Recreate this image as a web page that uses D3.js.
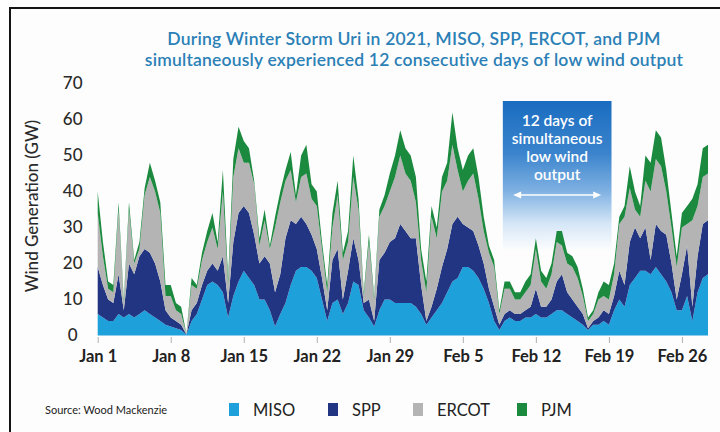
<!DOCTYPE html>
<html>
<head>
<meta charset="utf-8">
<script src="https://cdn.jsdelivr.net/npm/d3@7"></script>
<style>
  body { margin: 0; background: #fff; }
  svg { display: block; font-family: Lato, "Open Sans", sans-serif; }
</style>
</head>
<body>
<svg id="chart" width="720" height="432"></svg>
<script>
// Wind generation (GW), one value every 12 hours from Jan 1 00:00, 2021
const startDate = Date.UTC(2021, 0, 1);
const stepHours = 12;

const miso = [
  6, 5, 4, 4, 6, 5, 6, 5, 6, 7,
  6, 5, 4, 3, 2.5, 2, 1.5, 0.2, 4, 6,
  10, 14, 15, 14, 12, 5, 11, 15, 18, 16,
  14, 10, 10, 7, 2.5, 6, 9, 14, 18, 19,
  19, 18, 16, 10, 4, 9, 10, 6, 9, 15,
  14, 7, 5, 2.5, 7, 10, 10, 9, 9, 9,
  9, 8, 6, 3, 5, 7, 9, 12, 15, 16,
  19, 19, 18, 16, 13, 9, 4, 1.5, 4, 5,
  4, 4, 5, 5, 6, 5, 5, 6, 7, 7,
  6, 5, 4, 3, 1.5, 3, 3, 4, 3, 7,
  10, 8, 14, 16, 18, 18, 17, 19, 17, 15,
  12, 7, 7, 11, 4, 12, 16, 17
];
const spp = [
  13, 9, 6, 5, 11, 2, 14, 12, 16, 17,
  17, 15, 11, 4, 2.5, 2, 1.5, 0.1, 3, 3,
  4, 4, 5, 4, 10, 4, 15, 19, 18, 18,
  14, 10, 12, 13, 9.5, 11, 18, 18, 13, 14,
  12, 10, 8, 6, 3, 12, 14, 4, 9, 12,
  7, 2, 5, 1.5, 14, 13, 16, 18, 22, 20,
  18, 19, 8, 1, 3, 6, 10, 12, 16, 17,
  12, 11, 11, 9, 7, 4, 4, 1.5, 2, 2,
  2, 2, 2, 3, 7, 3, 3, 4, 8, 10,
  6, 5, 4, 3, 0.5, 1, 2, 3, 3, 4,
  8, 6, 12, 14, 9, 12, 4, 12, 12, 13,
  8, 3, 10, 14, 4, 10, 15, 15
];
const ercot = [
  15, 8, 3, 3, 18, 2, 15, 3, 2, 15,
  21, 20, 19, 4, 6, 3, 3, 0.1, 7, 4,
  7, 8, 10, 6, 18, 5, 18, 18, 12, 14,
  14, 5, 10, 4, 18, 20, 16, 14, 6, 11,
  14, 10, 12, 8, 5, 9, 15, 11, 8, 17,
  14, 2, 16, 6, 12, 13, 14, 17, 19, 16,
  16, 10, 7, 8, 25, 14, 21, 19, 22, 13,
  9, 13, 16, 13, 9, 10, 11, 3, 7, 6,
  4, 4, 5, 6, 11, 7, 5, 7, 11, 8,
  8, 9, 8, 5, 2, 2, 5, 4, 4, 6,
  13, 19, 15, 5, 6, 13, 19, 18, 18, 12,
  10, 9, 13, 6, 24, 14, 13, 13
];
const pjm = [
  6, 4, 2, 2, 2, 1, 2, 1, 2, 2,
  4, 3, 3, 3, 3, 2, 2, 0.1, 2, 1,
  2, 3, 4, 2, 6, 2, 5, 6, 6, 4,
  1, 2, 3, 1, 3, 3, 3, 5, 2, 6,
  8, 4, 4, 2, 2, 4, 4, 2, 3, 6,
  3, 1, 2, 1, 2, 3, 5, 6, 7, 7,
  7, 7, 3, 3, 3, 3, 4, 5, 9, 6,
  6, 7, 7, 6, 4, 2, 2, 1, 2, 2,
  2, 2, 3, 3, 3, 3, 3, 3, 3, 4,
  3, 3, 3, 2, 1, 1, 2, 4, 4, 3,
  2, 3, 6, 5, 3, 7, 8, 8, 8, 6,
  4, 3, 4, 5, 6, 6, 8, 8
];

const seriesNames = ["MISO", "SPP", "ERCOT", "PJM"];
const seriesColors = ["#1ea0db", "#213583", "#b4b4b4", "#1b8a3e"];
const tickLabels = ["Jan 1", "Jan 8", "Jan 15", "Jan 22", "Jan 29", "Feb 5", "Feb 12", "Feb 19", "Feb 26"];
const tickDates = [[0, 1], [0, 8], [0, 15], [0, 22], [0, 29], [1, 5], [1, 12], [1, 19], [1, 26]];
const yTicks = [0, 10, 20, 30, 40, 50, 60, 70];
const titleLines = [
  "During Winter Storm Uri in 2021, MISO, SPP, ERCOT, and PJM",
  "simultaneously experienced 12 consecutive days of low wind output"
];
const noteLines = ["12 days of", "simultaneous", "low wind", "output"];

// build rows for the stack
const rows = miso.map((v, i) => ({
  date: new Date(startDate + i * stepHours * 3600e3),
  MISO: v, SPP: spp[i], ERCOT: ercot[i], PJM: pjm[i]
}));

const svg = d3.select("#chart");

// frame
svg.append("rect").attr("x", 10).attr("y", 8).attr("width", 710).attr("height", 424).attr("fill", "#fdfdfd");
svg.append("path").attr("d", "M10,432V8H720").attr("fill", "none").attr("stroke", "#151515").attr("stroke-width", 2);

const x = d3.scaleUtc()
  .domain([rows[0].date, rows[rows.length - 1].date])
  .range([97.7, 708]);
const y = d3.scaleLinear().domain([0, 70]).range([335.5, 83.5]);

// annotation box (drawn under the areas)
const defs = svg.append("defs");
const grad = defs.append("linearGradient").attr("id", "boxGrad").attr("x1", 0).attr("y1", 0).attr("x2", 0).attr("y2", 1);
[[0, "#1a6cc0"], [0.35, "#3b84cd"], [0.6, "#7fb1e2"], [0.82, "#d6e7f7"], [1, "#fdfdfd"]].forEach(s => {
  grad.append("stop").attr("offset", s[0]).attr("stop-color", s[1]);
});
const boxX0 = x(new Date(Date.UTC(2021, 1, 8, 20))), boxX1 = x(new Date(Date.UTC(2021, 1, 19, 6)));
svg.append("rect")
  .attr("x", boxX0).attr("y", 101)
  .attr("width", boxX1 - boxX0).attr("height", 150)
  .attr("fill", "url(#boxGrad)");

// stacked areas
const stack = d3.stack().keys(seriesNames);
const layers = stack(rows);
const area = d3.area()
  .x(d => x(d.data.date))
  .y0(d => y(d[0]))
  .y1(d => y(d[1]));

svg.append("g").selectAll("path")
  .data(layers)
  .join("path")
  .attr("d", area)
  .attr("fill", (d, i) => seriesColors[i]);

// note text + arrow
const noteCx = (boxX0 + boxX1) / 2;
svg.append("g").selectAll("text")
  .data(noteLines)
  .join("text")
  .attr("x", noteCx)
  .attr("y", (d, i) => 126 + i * 18)
  .attr("text-anchor", "middle")
  .attr("fill", "#fff")
  .style("font-size", "15.5px")
  .style("font-weight", 600)
  .text(d => d);

const arrowY = 195;
const ax0 = noteCx - 44, ax1 = noteCx + 44;
svg.append("line").attr("x1", ax0 + 5).attr("x2", ax1 - 5).attr("y1", arrowY).attr("y2", arrowY)
  .attr("stroke", "#fff").attr("stroke-width", 1.5);
svg.append("path").attr("d", `M${ax0},${arrowY}l8,-3.5v7z`).attr("fill", "#fff");
svg.append("path").attr("d", `M${ax1},${arrowY}l-8,-3.5v7z`).attr("fill", "#fff");

// x axis
const xAxis = d3.axisBottom(x)
  .tickValues(tickDates.map(d => new Date(Date.UTC(2021, d[0], d[1]))))
  .tickFormat((d, i) => tickLabels[i])
  .tickSize(6)
  .tickPadding(7);
const gx = svg.append("g").attr("transform", "translate(0,337)").call(xAxis);
gx.select(".domain").remove();
gx.selectAll(".tick line").attr("stroke", "#b0b0b0");
gx.selectAll(".tick text")
  .attr("fill", "#222")
  .style("font-family", "Lato, sans-serif")
  .style("font-size", "16.5px")
  .style("font-weight", 700);

// y axis
const yAxis = d3.axisLeft(y).tickValues(yTicks).tickSize(0).tickPadding(0);
const gy = svg.append("g").attr("transform", "translate(97.7,0)").call(yAxis);
gy.select(".domain").remove();
gy.selectAll(".tick text")
  .attr("x", -25)
  .attr("text-anchor", "middle")
  .attr("fill", "#2a2a2a")
  .style("font-family", "Lato, sans-serif")
  .style("font-size", "17px")
  .style("font-weight", 500);

svg.append("text")
  .attr("transform", "translate(38,206) rotate(-90)")
  .attr("text-anchor", "middle")
  .attr("fill", "#2a2a2a")
  .style("font-size", "17px")
  .style("font-weight", 500)
  .text("Wind Generation (GW)");

// title
svg.append("g").selectAll("text")
  .data(titleLines)
  .join("text")
  .attr("x", 414)
  .attr("y", (d, i) => 45 + i * 21)
  .attr("text-anchor", "middle")
  .attr("fill", "#2b80b6")
  .style("font-size", "17.5px")
  .style("letter-spacing", "0.2px")
  .style("font-weight", 600)
  .text(d => d);

// source + legend
svg.append("text").attr("x", 45).attr("y", 414)
  .attr("fill", "#222").style("font-size", "11px").text("Source: Wood Mackenzie");

const legendX = [229, 328, 413, 517];
const legend = svg.append("g").selectAll("g")
  .data(seriesNames)
  .join("g")
  .attr("transform", (d, i) => `translate(${legendX[i]},403)`);
legend.append("rect").attr("width", 10).attr("height", 13).attr("fill", (d, i) => seriesColors[i]);
legend.append("text").attr("x", 24).attr("y", 12.5)
  .attr("fill", "#222").style("font-size", "16.5px").text(d => d);
</script>
</body>
</html>
